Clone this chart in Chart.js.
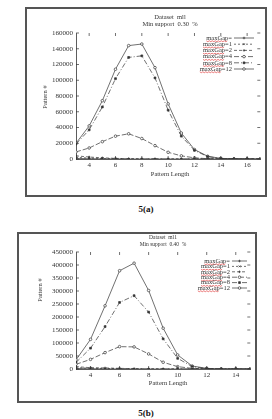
<!DOCTYPE html>
<html>
<head>
<meta charset="utf-8">
<script src="https://cdn.jsdelivr.net/npm/chart.js@4"></script>
<style>
body { margin: 0; width: 272px; height: 419px; background: #fff; position: relative; overflow: hidden; font-family: "Liberation Serif", serif; }
.frame { position: absolute; border: 2px solid #555; box-sizing: border-box; }
.frame canvas { display: block; }
.cap { position: absolute; width: 40px; text-align: center; font-weight: bold; font-size: 9px; color: #111; }
</style>
</head>
<body>
<div class="frame" style="left:25px;top:7px;width:242px;height:190px"><canvas id="chartA" width="238" height="186"></canvas></div>
<div class="cap" style="left:126px;top:204px">5(a)</div>
<div class="frame" style="left:17px;top:232px;width:240px;height:171px"><canvas id="chartB" width="236" height="167"></canvas></div>
<div class="cap" style="left:126px;top:408px">5(b)</div>
<script>
// legend labels (top to bottom)
const gapLabels = ['maxGap=', 'maxGap=1', 'maxGap=2', 'maxGap=4', 'maxGap=8', 'maxGap=12'];

// 5(a) dataset mll, min support 0.30 %
const lengthsA = [3, 4, 5, 6, 7, 8, 9, 10, 11, 12, 13, 14, 15, 16, 17];
const gap0A  = [800, 400, 200, 100, 0, 0, 0, 0, 0, 0, 0, 0, 0, 0, 0];
const gap1A  = [2000, 1200, 600, 300, 100, 0, 0, 0, 0, 0, 0, 0, 0, 0, 0];
const gap2A  = [4000, 2500, 1500, 800, 400, 200, 100, 0, 0, 0, 0, 0, 0, 0, 0];
const gap4A  = [9000, 14000, 22000, 29000, 32000, 26000, 17000, 8500, 4000, 1500, 400, 100, 0, 0, 0];
const gap8A  = [19000, 37000, 66000, 102000, 129000, 131000, 103000, 62000, 29000, 11000, 3000, 700, 100, 0, 0];
const gap12A = [20000, 42000, 74000, 114000, 144000, 146000, 116000, 70000, 33000, 12000, 3500, 800, 200, 0, 0];
const xTicksA = [4, 6, 8, 10, 12, 14, 16];
const yTicksA = [0, 20000, 40000, 60000, 80000, 100000, 120000, 140000, 160000];

// 5(b) dataset ml1, min support 0.40 %
const lengthsB = [3, 4, 5, 6, 7, 8, 9, 10, 11, 12, 13, 14, 15];
const gap0B  = [2000, 1200, 600, 300, 100, 0, 0, 0, 0, 0, 0, 0, 0];
const gap1B  = [5000, 3000, 2000, 1200, 500, 200, 100, 0, 0, 0, 0, 0, 0];
const gap2B  = [9000, 5000, 4000, 2500, 1200, 500, 200, 0, 0, 0, 0, 0, 0];
const gap4B  = [18000, 37000, 63000, 86000, 85000, 58000, 26000, 9000, 2500, 500, 0, 0, 0];
const gap8B  = [25000, 80000, 163000, 256000, 282000, 219000, 116000, 41000, 9000, 1500, 0, 0, 0];
const gap12B = [35000, 114000, 243000, 378000, 407000, 302000, 157000, 54000, 11500, 2500, 0, 0, 0];
const xTicksB = [4, 6, 8, 10, 12, 14];
const yTicksB = [0, 50000, 100000, 150000, 200000, 250000, 300000, 350000, 400000, 450000];

const seriesStyle = [
    { dash: [], point: 'cross', fill: false },
    { dash: [2, 2], point: 'crossRot', fill: false },
    { dash: [3, 2], point: 'cross', fill: false },
    { dash: [5, 2], point: 'circle', fill: false },
    { dash: [5, 2, 1, 2], point: 'rect', fill: true },
    { dash: [], point: 'circle', fill: false }
];

const ink = '#333';

const overlay = {
    id: 'overlay',
    afterDraw(chart, args, o) {
        const ctx = chart.ctx, a = chart.chartArea;
        ctx.save();
        ctx.fillStyle = ink;
        ctx.strokeStyle = ink;
        ctx.lineWidth = 0.7;

        // inward ticks on all four sides
        chart.scales.x.ticks.forEach(t => {
            const px = chart.scales.x.getPixelForValue(t.value);
            ctx.beginPath();
            ctx.moveTo(px, a.bottom); ctx.lineTo(px, a.bottom - 3);
            ctx.moveTo(px, a.top); ctx.lineTo(px, a.top + 3);
            ctx.stroke();
        });
        chart.scales.y.ticks.forEach(t => {
            const py = chart.scales.y.getPixelForValue(t.value);
            ctx.beginPath();
            ctx.moveTo(a.left, py); ctx.lineTo(a.left + 3, py);
            ctx.moveTo(a.right, py); ctx.lineTo(a.right - 3, py);
            ctx.stroke();
        });

        // titles
        ctx.textAlign = 'center';
        ctx.textBaseline = 'middle';
        ctx.font = o.titleFont + 'px "Liberation Serif"';
        o.title.forEach((t, i) => ctx.fillText(t, o.titleX, o.titleY[i]));
        ctx.font = '6.5px "Liberation Serif"';
        ctx.fillText('Pattern Length', o.xTitle[0], o.xTitle[1]);
        ctx.save();
        ctx.translate(o.yTitle[0], o.yTitle[1]);
        ctx.rotate(-Math.PI / 2);
        ctx.fillText('Pattern #', 0, 0);
        ctx.restore();

        // legend
        ctx.font = '6.5px "Liberation Serif"';
        ctx.textAlign = 'right';
        const wGap = ctx.measureText('maxGap').width;
        chart.data.datasets.forEach((ds, i) => {
            const y = o.legY + i * o.legStep;
            ctx.fillStyle = ink;
            ctx.fillText(ds.label, o.legTextR, y);
            const tx = o.legTextR - ctx.measureText(ds.label).width;
            // red squiggle under the word
            ctx.save();
            ctx.strokeStyle = '#d22';
            ctx.lineWidth = 0.6;
            ctx.beginPath();
            for (let k = 0; k <= wGap; k += 1.5) {
                const yy = y + 3 + ((k / 1.5) % 2 ? 0.7 : -0.2);
                if (k === 0) ctx.moveTo(tx + k, yy); else ctx.lineTo(tx + k, yy);
            }
            ctx.stroke();
            ctx.restore();
            // line sample
            ctx.save();
            ctx.setLineDash(ds.borderDash);
            ctx.beginPath();
            ctx.moveTo(o.legLine[0], y);
            ctx.lineTo(o.legLine[1], y);
            ctx.stroke();
            ctx.restore();
            ctx.fillStyle = ds.pointBackgroundColor;
            Chart.helpers.drawPoint(ctx, { pointStyle: ds.pointStyle, radius: 1.3, rotation: 0, borderWidth: 0.7 },
                (o.legLine[0] + o.legLine[1]) / 2, y);
        });
        ctx.restore();
    }
};

function makeChart(id, lengths, series, xTicks, yTicks, xMax, yMax, box, text) {
    const datasets = series.map((vals, i) => ({
        label: gapLabels[i],
        data: lengths.map((x, j) => ({ x: x, y: vals[j] })),
        borderColor: ink,
        borderWidth: 0.7,
        borderDash: seriesStyle[i].dash,
        pointStyle: seriesStyle[i].point,
        pointRadius: 1.3,
        pointBorderWidth: 0.7,
        pointBorderColor: ink,
        pointBackgroundColor: seriesStyle[i].fill ? ink : '#fff',
        tension: 0
    }));

    return new Chart(document.getElementById(id), {
        type: 'line',
        data: { datasets: datasets },
        options: {
            responsive: false,
            animation: false,
            events: [],
            layout: { padding: { left: 0, top: box.top, right: box.right, bottom: 0 } },
            plugins: {
                legend: { display: false },
                tooltip: { enabled: false },
                overlay: text
            },
            scales: {
                x: {
                    type: 'linear',
                    min: 3,
                    max: xMax,
                    afterBuildTicks: s => { s.ticks = xTicks.map(v => ({ value: v })); },
                    afterFit: s => { s.height = box.xHeight; },
                    grid: { display: true, drawOnChartArea: false, drawTicks: false },
                    border: { display: true, color: ink, width: 0.8 },
                    ticks: { color: ink, padding: 2, maxRotation: 0, font: { family: 'Liberation Serif', size: 7 } }
                },
                y: {
                    min: 0,
                    max: yMax,
                    afterBuildTicks: s => { s.ticks = yTicks.map(v => ({ value: v })); },
                    afterFit: s => { s.width = box.yWidth; },
                    grid: { display: true, drawOnChartArea: false, drawTicks: false },
                    border: { display: true, color: ink, width: 0.8 },
                    ticks: { color: ink, padding: 3, font: { family: 'Liberation Serif', size: 7 }, callback: v => String(v) }
                }
            }
        },
        plugins: [overlay]
    });
}

makeChart('chartA', lengthsA, [gap0A, gap1A, gap2A, gap4A, gap8A, gap12A], xTicksA, yTicksA, 17, 160000,
    { top: 24, right: 4, xHeight: 36, yWidth: 49 },
    { title: ['Dataset  mll', 'Min support  0.30  %'], titleFont: 6.5, titleX: 143, titleY: [8, 15],
      xTitle: [143, 165], yTitle: [18, 88],
      legTextR: 205, legLine: [207, 227], legY: 29, legStep: 6.2 });

makeChart('chartB', lengthsB, [gap0B, gap1B, gap2B, gap4B, gap8B, gap12B], xTicksB, yTicksB, 15, 450000,
    { top: 18, right: 2, xHeight: 32, yWidth: 57 },
    { title: ['Dataset  ml1', 'Min support  0.40  %'], titleFont: 5.5, titleX: 144, titleY: [3.5, 10.5],
      xTitle: [149, 149], yTitle: [21, 56],
      legTextR: 211, legLine: [213, 228], legY: 27, legStep: 5.4 });
</script>
</body>
</html>
